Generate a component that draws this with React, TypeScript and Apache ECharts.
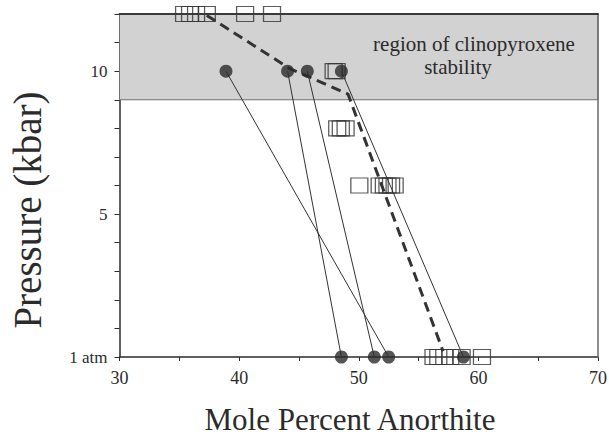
import React, { useEffect, useRef } from "react";
import * as echarts from "echarts";

// Axis ticks / labels
const xLabelValues = [30, 40, 50, 60, 70];
const yLabelTexts: Record<number, string> = { 0: "1 atm", 5: "5", 10: "10" };

// Tie lines between experiments (filled circles): 10 kbar -> 1 atm
const tieHighP = 10;
const tieLowP = 0;
const tieHighX = [38.9, 44.05, 45.7, 48.55];
const tieLowX = [52.5, 48.55, 51.3, 58.75];

// Open squares, grouped by pressure (kbar)
const cpxPressures = [12, 10, 8, 6, 0];
const cpx12X = [35.4, 35.9, 36.4, 37.3, 40.5, 42.75];
const cpx10X = [47.9, 48.15];
const cpx8X = [48.2, 48.5, 48.9];
const cpx6X = [50.05, 51.75, 52.1, 52.4, 52.7, 53.0];
const cpx0X = [56.25, 56.65, 57.15, 57.65, 58.6, 60.3];
const cpxGroups = [cpx12X, cpx10X, cpx8X, cpx6X, cpx0X];

// Dashed boundary curve
const boundaryX = [37.3, 44.2, 49.1, 57.05];
const boundaryP = [11.95, 10.1, 9.2, 0.2];

// Shaded region of clinopyroxene stability (kbar)
const stabilityFrom = 9;
const stabilityTo = 12;

export default function App() {
  const ref = useRef<HTMLDivElement>(null);

  useEffect(() => {
    document.body.style.margin = "0";
    const chart = echarts.init(ref.current!, null, { renderer: "svg" });
    const serif = '"Liberation Serif", "Times New Roman", serif';
    const ink = "#2b2b2b";

    const squares: number[][] = [];
    cpxGroups.forEach((g, i) => g.forEach((x) => squares.push([x, cpxPressures[i]])));

    const circles: number[][] = [];
    tieHighX.forEach((x, i) => {
      circles.push([x, tieHighP]);
      circles.push([tieLowX[i], tieLowP]);
    });

    const tieSeries = tieHighX.map((x, i) => ({
      type: "line",
      z: 4,
      symbol: "none",
      silent: true,
      lineStyle: { color: "#333", width: 1 },
      data: [
        [x, tieHighP],
        [tieLowX[i], tieLowP],
      ],
    }));

    chart.setOption({
      animation: false,
      grid: { left: 119.5, right: 11, top: 14, bottom: 83, outerBoundsMode: "none" },
      xAxis: [
        {
          type: "value",
          min: 30,
          max: 70,
          interval: 5,
          axisLine: { onZero: false, lineStyle: { color: ink, width: 1.5 } },
          axisTick: { length: 4, lineStyle: { color: ink } },
          axisLabel: {
            margin: 12,
            fontFamily: serif,
            fontSize: 18,
            color: ink,
            formatter: (v: number) => (xLabelValues.includes(v) ? String(v) : ""),
          },
          splitLine: { show: false },
        },
        {
          type: "value",
          position: "top",
          min: 30,
          max: 70,
          z: 10,
          axisLine: { show: true, onZero: false, lineStyle: { color: "#3a3a3a", width: 2 } },
          axisTick: { show: false },
          axisLabel: { show: false },
          splitLine: { show: false },
        },
      ],
      yAxis: [
        {
          type: "value",
          min: 0,
          max: 12,
          interval: 1,
          axisLine: { show: true, onZero: false, lineStyle: { color: ink, width: 1.5 } },
          axisTick: { show: true, length: 5, lineStyle: { color: ink } },
          axisLabel: {
            margin: 12,
            fontFamily: serif,
            fontSize: 17,
            color: ink,
            formatter: (v: number) => yLabelTexts[v] ?? "",
          },
          splitLine: { show: false },
        },
        {
          type: "value",
          position: "right",
          min: 0,
          max: 12,
          z: 10,
          axisLine: { show: true, onZero: false, lineStyle: { color: "#6a6a6a", width: 1.5 } },
          axisTick: { show: false },
          axisLabel: { show: false },
          splitLine: { show: false },
        },
      ],
      series: [
        {
          type: "line",
          z: 1,
          data: [],
          silent: true,
          markArea: {
            silent: true,
            itemStyle: { color: "#d2d2d2", borderColor: "#707070", borderWidth: 1 },
            data: [[{ yAxis: stabilityFrom }, { yAxis: stabilityTo }]],
          },
        },
        {
          type: "scatter",
          z: 3,
          symbol: "rect",
          symbolSize: [17, 15],
          itemStyle: { color: "rgba(0,0,0,0)", borderColor: "#333", borderWidth: 1.2 },
          data: squares,
        },
        {
          type: "line",
          z: 4,
          symbol: "none",
          silent: true,
          lineStyle: { color: "#333", width: 3, type: [10, 6] },
          data: boundaryX.map((x, i) => [x, boundaryP[i]]),
        },
        ...tieSeries,
        {
          type: "scatter",
          z: 6,
          symbol: "circle",
          symbolSize: 13,
          itemStyle: { color: "#2a2a2a" },
          data: circles,
        },
      ],
      graphic: [
        {
          type: "text",
          x: 27,
          y: 210,
          rotation: Math.PI / 2,
          style: {
            text: "Pressure (kbar)",
            fontFamily: serif,
            fontSize: 39,
            fill: ink,
            align: "center",
            verticalAlign: "middle",
          },
        },
        {
          type: "text",
          x: 350,
          y: 419,
          style: {
            text: "Mole Percent Anorthite",
            fontFamily: serif,
            fontSize: 31,
            fill: ink,
            align: "center",
            verticalAlign: "middle",
          },
        },
        {
          type: "text",
          x: 474,
          y: 44,
          z: 20,
          style: {
            text: "region of clinopyroxene",
            fontFamily: serif,
            fontSize: 21,
            fill: ink,
            align: "center",
            verticalAlign: "middle",
          },
        },
        {
          type: "text",
          x: 458,
          y: 67,
          z: 20,
          style: {
            text: "stability",
            fontFamily: serif,
            fontSize: 21,
            fill: ink,
            align: "center",
            verticalAlign: "middle",
          },
        },
      ],
    });

    return () => chart.dispose();
  }, []);

  return <div ref={ref} style={{ width: 609, height: 440 }} />;
}
